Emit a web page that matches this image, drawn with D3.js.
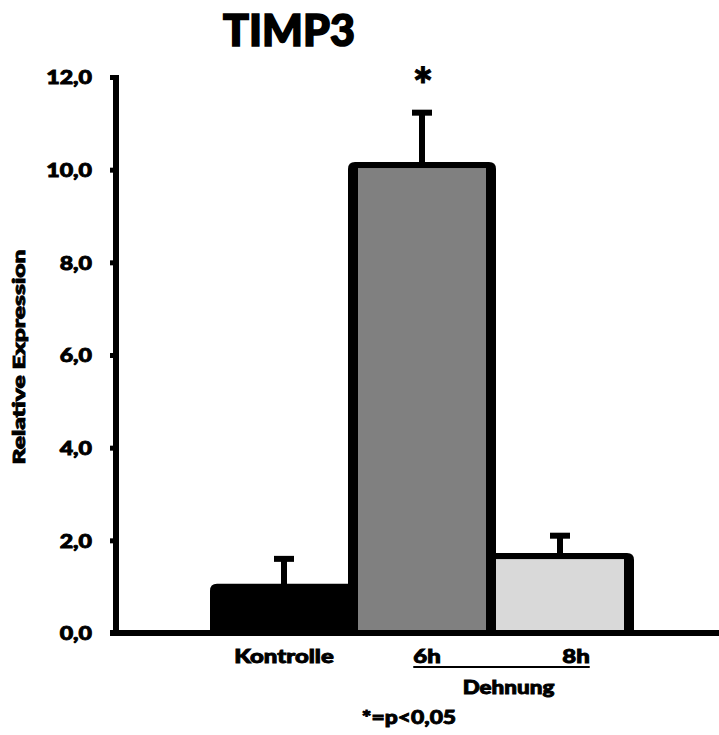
<!DOCTYPE html>
<html>
<head>
<meta charset="utf-8">
<script src="https://cdn.jsdelivr.net/npm/d3@7"></script>
<style>
  html, body { margin: 0; padding: 0; background: #ffffff; }
  svg { display: block; }
  text { font-family: Lato, "Open Sans", "DejaVu Sans", sans-serif; font-weight: 900; fill: #000; stroke: #000; stroke-width: 0.9px; }
</style>
</head>
<body>
<svg id="chart" width="719" height="735"></svg>
<script>
// TIMP3 relative expression: control vs. stretch (Dehnung) at 6h and 8h
const categories = ["Kontrolle", "6h", "8h"];
const means = [1.0, 10.1, 1.66];
const errors = [0.6, 1.13, 0.44];
const fills = ["#000000", "#808080", "#d9d9d9"];
const yTicks = [0, 2, 4, 6, 8, 10, 12];
const tickLabels = ["0,0", "2,0", "4,0", "6,0", "8,0", "10,0", "12,0"];
const significant = [false, true, false];

const svg = d3.select("#chart");

const x = d3.scaleBand().domain(categories).range([215, 629]).padding(0);
const y = d3.scaleLinear().domain([0, 12]).range([633, 77]);

// widen text horizontally by a factor, keeping its anchor
function widen(sel, k) {
  sel.each(function () {
    const len = this.getComputedTextLength();
    d3.select(this)
      .attr("textLength", len * k)
      .attr("lengthAdjust", "spacingAndGlyphs");
  });
}

// title
svg.append("text")
  .attr("x", 289).attr("y", 46)
  .attr("text-anchor", "middle")
  .style("font-size", "43px")
  .style("stroke-width", "1.6px")
  .text("TIMP3");

// bars: heavy black outline with rounded top corners, fill inset inside
const outerPad = 5, sideW = 10, topW = 6, r = 7;
function roundedTop(x0, y0, w, h, rad) {
  const p = d3.path();
  p.moveTo(x0, y0 + h);
  p.lineTo(x0, y0 + rad);
  p.quadraticCurveTo(x0, y0, x0 + rad, y0);
  p.lineTo(x0 + w - rad, y0);
  p.quadraticCurveTo(x0 + w, y0, x0 + w, y0 + rad);
  p.lineTo(x0 + w, y0 + h);
  p.closePath();
  return p.toString();
}

const bars = svg.append("g");
categories.forEach((c, i) => {
  const x0 = x(c) - outerPad;
  const w = x.bandwidth() + 2 * outerPad;
  const yt = y(means[i]) - topW / 2;
  const h = y(0) - yt;
  bars.append("path")
    .attr("d", roundedTop(x0, yt, w, h, r))
    .attr("fill", "#000");
  bars.append("rect")
    .attr("x", x0 + sideW)
    .attr("y", yt + topW)
    .attr("width", w - 2 * sideW)
    .attr("height", Math.max(0, h - topW))
    .attr("fill", fills[i]);
});

// upper error bars
const eb = svg.append("g");
categories.forEach((c, i) => {
  const cx = x(c) + x.bandwidth() / 2;
  const yTop = y(means[i] + errors[i]);
  const yBar = y(means[i]);
  eb.append("line")
    .attr("x1", cx).attr("x2", cx)
    .attr("y1", yBar).attr("y2", yTop)
    .attr("stroke", "#000").attr("stroke-width", 6);
  eb.append("line")
    .attr("x1", cx - 10).attr("x2", cx + 10)
    .attr("y1", yTop).attr("y2", yTop)
    .attr("stroke", "#000").attr("stroke-width", 6);
  if (significant[i]) {
    eb.append("text")
      .attr("x", cx + 1)
      .attr("y", yTop - 10)
      .attr("text-anchor", "middle")
      .style("font-size", "48px")
      .text("*");
  }
});

// y axis
const yAxis = d3.axisLeft(y)
  .tickValues(yTicks)
  .tickFormat((d, i) => tickLabels[i])
  .tickSize(6)
  .tickSizeOuter(0)
  .tickPadding(18);
const gy = svg.append("g").attr("transform", "translate(116,0)").call(yAxis);
gy.select(".domain").attr("stroke", "#000").attr("stroke-width", 6)
  .attr("d", `M0,${y(12) - 2}V${y(0) + 3}`);
gy.selectAll(".tick line").attr("stroke", "#000").attr("stroke-width", 5);
gy.selectAll(".tick text")
  .attr("fill", "#000")
  .style("font-size", "19px")
  .style("font-family", "Lato, 'Open Sans', sans-serif")
  .style("font-weight", 900)
  .attr("dy", "0.36em")
  .call(widen, 1.22);

// x axis baseline
svg.append("line")
  .attr("x1", 110).attr("x2", 719)
  .attr("y1", y(0)).attr("y2", y(0))
  .attr("stroke", "#000").attr("stroke-width", 6);

// y axis title
svg.append("text")
  .attr("transform", `translate(25,357) rotate(-90)`)
  .attr("text-anchor", "middle")
  .style("font-size", "17px")
  .text("Relative Expression")
  .call(widen, 1.45);

// category labels
const labelY = 663;
const labelOffsets = [0, 5, 16];
const labels = svg.append("g");
categories.forEach((c, i) => {
  labels.append("text")
    .attr("class", "cat")
    .attr("x", x(c) + x.bandwidth() / 2 + labelOffsets[i])
    .attr("y", labelY)
    .attr("text-anchor", "middle")
    .style("font-size", "19px")
    .text(c)
    .call(widen, 1.26);
});

// underline grouping the stretch time points
const catNodes = labels.selectAll("text.cat").nodes();
const b6 = catNodes[1].getBBox(), b8 = catNodes[2].getBBox();
svg.append("line")
  .attr("x1", b6.x).attr("x2", b8.x + b8.width)
  .attr("y1", labelY + 4).attr("y2", labelY + 4)
  .attr("stroke", "#000").attr("stroke-width", 2);

svg.append("text")
  .attr("x", (b6.x + b8.x + b8.width) / 2 + 7)
  .attr("y", 694)
  .attr("text-anchor", "middle")
  .style("font-size", "19px")
  .text("Dehnung")
  .call(widen, 1.18);

svg.append("text")
  .attr("x", 409)
  .attr("y", 724)
  .attr("text-anchor", "middle")
  .style("font-size", "19px")
  .text("*=p<0,05")
  .call(widen, 1.2);
</script>
</body>
</html>
